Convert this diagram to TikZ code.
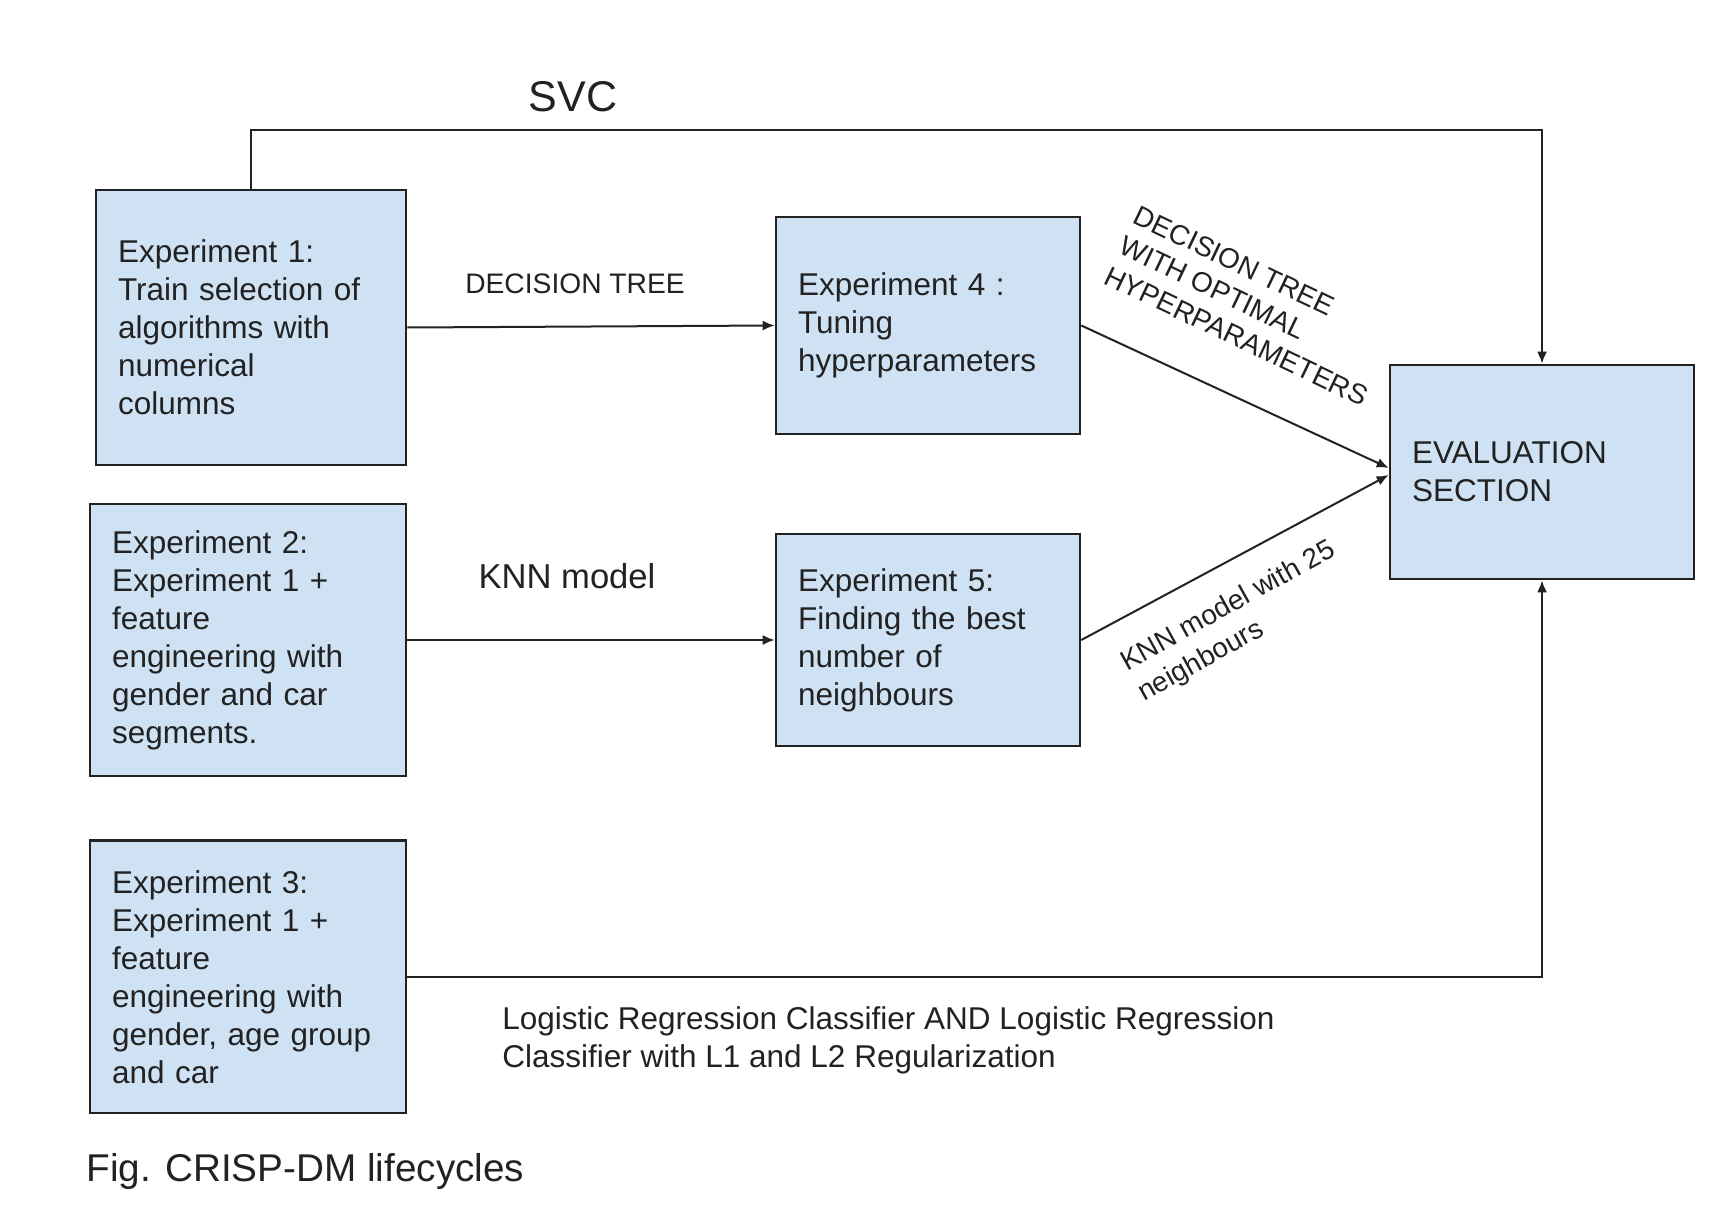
\documentclass[tikz,border=0pt]{standalone}
\usepackage{fontspec}
\setmainfont{Liberation Sans}
\usetikzlibrary{arrows.meta,calc}
\definecolor{boxblue}{HTML}{CFE2F3}
\definecolor{ink}{HTML}{222222}
\begin{document}
\begin{tikzpicture}[x=0.5pt,y=-0.5pt,
  expbox/.style={draw=ink, fill=boxblue, line width=1.3pt, inner xsep=11pt, inner ysep=0pt,
    align=left, font=\fontsize{15.75}{19}\selectfont, text=ink},
  conn/.style={draw=ink, line width=1pt},
  arr/.style={conn, -{Latex[length=6pt,width=5pt]}},
  lbl/.style={text=ink, inner sep=0pt}]
\fill[white] (0,0) rectangle (1718,1214);
\useasboundingbox (0,0) rectangle (1718,1214);

% boxes
\node[expbox, text width=133pt, minimum height=137.5pt] (e1) at (251,327.5)
  {Experiment 1:\\Train selection of\\algorithms with\\numerical\\columns};
\node[expbox, text width=136pt, minimum height=136pt] (e2) at (248,640)
  {Experiment 2:\\Experiment 1 +\\feature\\engineering with\\gender and car\\segments.};
\node[expbox, text width=136pt, minimum height=136.25pt] (e3) at (248,976.75)
  {Experiment 3:\\Experiment 1 +\\feature\\engineering with\\gender, age group\\and car};
\node[expbox, text width=130pt, minimum height=108.5pt] (e4) at (928,325.5)
  {Experiment 4 :\\Tuning\\hyperparameters};
\node[expbox, text width=130pt, minimum height=106pt] (e5) at (928,640)
  {Experiment 5:\\Finding the best\\number of\\neighbours};
\node[expbox, text width=130pt, minimum height=107pt] (ev) at (1542,472)
  {EVALUATION\\SECTION};

% connectors
\draw[arr] (e1.east) -- (e4.west);
\draw[arr] (e2.east) -- (e5.west);
\draw[arr] (e4.east) -- ($(ev.west)+(0,-4)$);
\draw[arr] (e5.east) -- ($(ev.west)+(0,3)$);
\draw[arr] (e1.north) -- ++(0,-58.5) -| (ev.north);
\draw[arr] (e3.east) -| (ev.south);

% labels
\node[lbl, font=\fontsize{21.5}{26}\selectfont] (svc) at (573,96.5) {SVC};
\node[lbl, font=\fontsize{14.1}{17}\selectfont] (dt) at (575,284) {DECISION TREE};
\node[lbl, font=\fontsize{17.3}{21}\selectfont] (knn) at (567,576) {KNN model};
\node[lbl, font=\fontsize{14}{16.8}\selectfont, align=left, rotate=-25.5] (dto) at (1251,306)
  {DECISION TREE\\WITH OPTIMAL\\HYPERPARAMETERS};
\node[lbl, font=\fontsize{14}{17.5}\selectfont, align=left, rotate=29] (knn25) at (1237,622)
  {KNN model with 25\\neighbours};
\node[lbl, font=\fontsize{15.75}{19}\selectfont, align=left, anchor=west] (lr) at (502,1040)
  {Logistic Regression Classifier AND Logistic Regression\\Classifier with L1 and L2 Regularization};
\node[lbl, font=\fontsize{19.35}{23}\selectfont, anchor=west] (cap) at (86,1171)
  {Fig. CRISP-DM lifecycles};
\end{tikzpicture}
\end{document}
